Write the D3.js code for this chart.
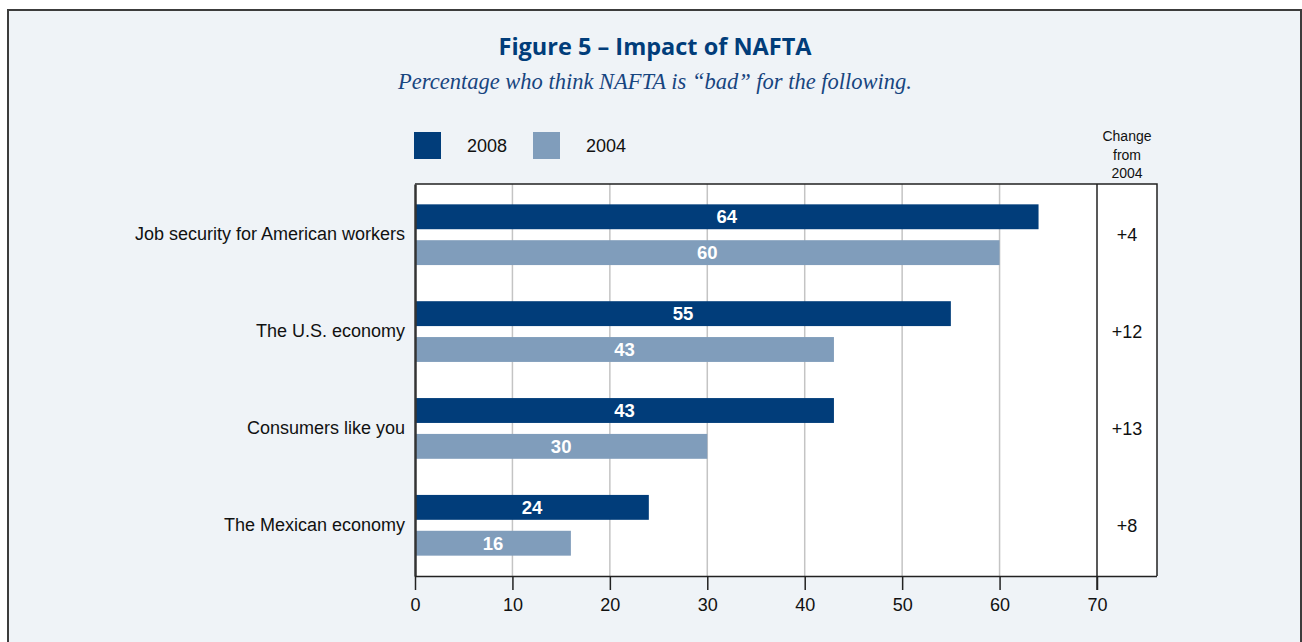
<!DOCTYPE html>
<html>
<head>
<meta charset="utf-8">
<script src="https://cdn.jsdelivr.net/npm/d3@7"></script>
<style>
  html, body { margin: 0; padding: 0; background: #ffffff; }
  svg { display: block; }
</style>
</head>
<body>
<svg id="chart" width="1302" height="642"></svg>
<script>
// Survey categories and values
const categories = [
  "Job security for American workers",
  "The U.S. economy",
  "Consumers like you",
  "The Mexican economy"
];
const years = ["2008", "2004"];
const values2008 = [64, 55, 43, 24];
const values2004 = [60, 43, 30, 16];
const changeLabels = ["+4", "+12", "+13", "+8"];
const xTicks = [0, 10, 20, 30, 40, 50, 60, 70];
const changeHeader = ["Change", "from", "2004"];

const colors = { "2008": "#013d7a", "2004": "#809dbb" };
const narrow = "'Liberation Sans Narrow', 'Arial Narrow', 'Liberation Sans', sans-serif";

const svg = d3.select("#chart");

// Panel background and frame
svg.append("rect")
  .attr("x", 8).attr("y", 10)
  .attr("width", 1293).attr("height", 640)
  .attr("fill", "#eff3f7")
  .attr("stroke", "#3c3c3c").attr("stroke-width", 2);

// Title and subtitle
svg.append("text")
  .attr("x", 655).attr("y", 55)
  .attr("text-anchor", "middle")
  .attr("font-family", "'Open Sans', 'Noto Sans', sans-serif")
  .attr("font-weight", 700)
  .attr("font-size", 23.5)
  .attr("fill", "#013d7a")
  .text("Figure 5 – Impact of NAFTA");

svg.append("text")
  .attr("x", 655).attr("y", 89)
  .attr("text-anchor", "middle")
  .attr("font-family", "'Liberation Serif', 'DejaVu Serif', serif")
  .attr("font-style", "italic")
  .attr("font-size", 22.5)
  .attr("fill", "#17457f")
  .text("Percentage who think NAFTA is “bad” for the following.");

// Plot geometry
const plotLeft = 415, plotRight = 1157, plotTop = 184, plotBottom = 576;

const x = d3.scaleLinear().domain([0, 70]).range([plotLeft, 1097]);

const y0 = d3.scaleBand()
  .domain(categories)
  .range([plotTop, plotBottom])
  .paddingInner(0.373)
  .paddingOuter(0.21);

const y1 = d3.scaleBand()
  .domain(years)
  .range([0, y0.bandwidth()])
  .paddingInner(0.306);

// Plot background
svg.append("rect")
  .attr("x", plotLeft).attr("y", plotTop)
  .attr("width", plotRight - plotLeft).attr("height", plotBottom - plotTop)
  .attr("fill", "#ffffff");

// Vertical gridlines
svg.append("g")
  .selectAll("line")
  .data(xTicks.filter(d => d > 0 && d < 70))
  .join("line")
  .attr("x1", d => x(d)).attr("x2", d => x(d))
  .attr("y1", plotTop).attr("y2", plotBottom)
  .attr("stroke", "#c4c4c4").attr("stroke-width", 1.5);

// Bars
const rows = categories.map((c, i) => ({
  category: c,
  bars: [
    { year: "2008", value: values2008[i] },
    { year: "2004", value: values2004[i] }
  ]
}));

const groups = svg.append("g")
  .selectAll("g")
  .data(rows)
  .join("g")
  .attr("transform", d => `translate(0,${y0(d.category)})`);

groups.selectAll("rect")
  .data(d => d.bars)
  .join("rect")
  .attr("x", x(0))
  .attr("y", d => y1(d.year))
  .attr("width", d => x(d.value) - x(0))
  .attr("height", y1.bandwidth())
  .attr("fill", d => colors[d.year]);

groups.selectAll("text.value")
  .data(d => d.bars)
  .join("text")
  .attr("class", "value")
  .attr("x", d => (x(0) + x(d.value)) / 2)
  .attr("y", d => y1(d.year) + y1.bandwidth() / 2)
  .attr("dy", "0.36em")
  .attr("text-anchor", "middle")
  .attr("font-family", narrow)
  .attr("font-weight", 700)
  .attr("font-size", 18.5)
  .attr("fill", "#ffffff")
  .text(d => d.value);

// Plot frame: top and right borders, change column divider
svg.append("path")
  .attr("d", `M${plotLeft},${plotTop}H${plotRight}V${plotBottom}`)
  .attr("fill", "none")
  .attr("stroke", "#222").attr("stroke-width", 1.5);

svg.append("line")
  .attr("x1", x(70)).attr("x2", x(70))
  .attr("y1", plotTop).attr("y2", plotBottom + 14)
  .attr("stroke", "#222").attr("stroke-width", 1.5);

// Category axis (left)
const yAxis = svg.append("g")
  .attr("transform", `translate(${plotLeft},0)`)
  .call(d3.axisLeft(y0).tickSize(0).tickPadding(10));
yAxis.select(".domain").attr("stroke", "#333").attr("stroke-width", 2.5);
yAxis.selectAll("text")
  .attr("font-family", narrow)
  .attr("font-size", 18)
  .attr("fill", "#111");

// Value axis (bottom)
const xAxis = svg.append("g")
  .attr("transform", `translate(0,${plotBottom})`)
  .call(d3.axisBottom(x).tickValues(xTicks).tickSize(14).tickSizeOuter(0).tickPadding(8));
xAxis.select(".domain")
  .attr("d", `M${plotLeft},0.5H${plotRight}`)
  .attr("stroke", "#222").attr("stroke-width", 1.5);
xAxis.selectAll(".tick line").attr("stroke", "#222").attr("stroke-width", 1.5);
xAxis.selectAll("text")
  .attr("font-family", narrow)
  .attr("font-size", 18)
  .attr("fill", "#111");

// Change column
const changeX = (x(70) + plotRight) / 2;
svg.append("g")
  .selectAll("text")
  .data(categories)
  .join("text")
  .attr("x", changeX)
  .attr("y", (d, i) => y0(d) + y0.bandwidth() / 2)
  .attr("dy", "0.36em")
  .attr("text-anchor", "middle")
  .attr("font-family", narrow)
  .attr("font-size", 18)
  .attr("fill", "#111")
  .text((d, i) => changeLabels[i]);

svg.append("g")
  .selectAll("text")
  .data(changeHeader)
  .join("text")
  .attr("x", changeX)
  .attr("y", (d, i) => 141 + i * 18.5)
  .attr("text-anchor", "middle")
  .attr("font-family", narrow)
  .attr("font-size", 14)
  .attr("fill", "#111")
  .text(d => d);

// Legend
const legend = svg.append("g")
  .selectAll("g")
  .data(years)
  .join("g")
  .attr("transform", (d, i) => `translate(${414 + i * 119},132)`);
legend.append("rect")
  .attr("width", 27).attr("height", 27)
  .attr("fill", d => colors[d]);
legend.append("text")
  .attr("x", 53).attr("y", 13.5)
  .attr("dy", "0.36em")
  .attr("font-family", narrow)
  .attr("font-size", 18)
  .attr("fill", "#111")
  .text(d => d);
</script>
</body>
</html>
